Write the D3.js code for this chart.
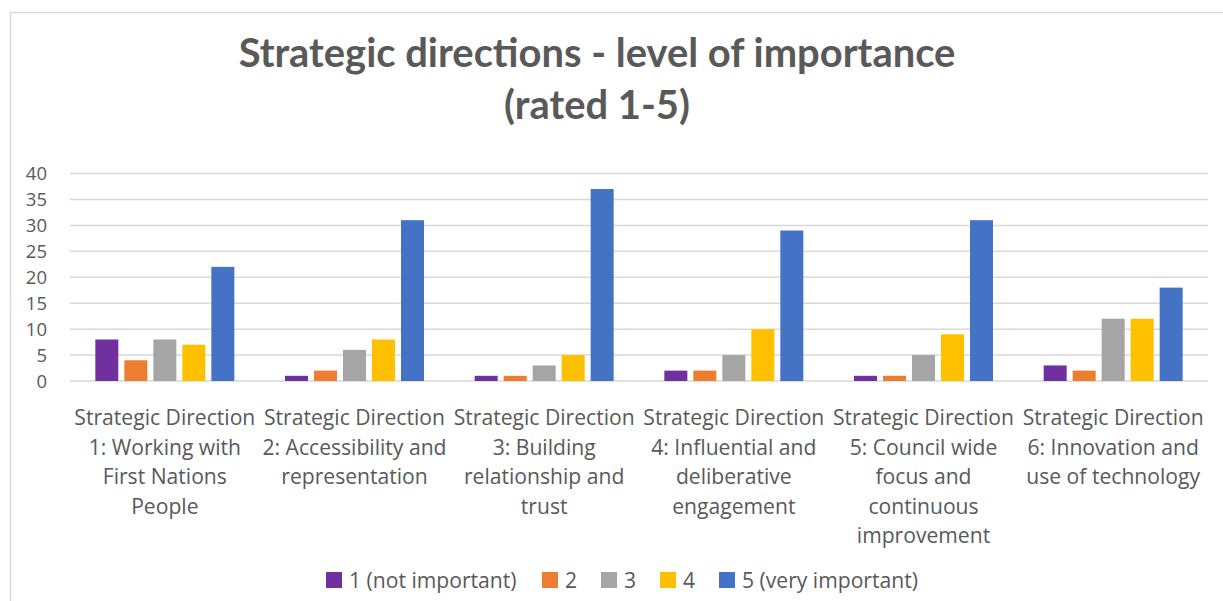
<!DOCTYPE html>
<html>
<head>
<meta charset="utf-8">
<script src="https://cdn.jsdelivr.net/npm/d3@7"></script>
<style>
	body { margin: 0; background: #fff; }
	svg text { fill: #595959; }
</style>
</head>
<body>
<div id="chart"></div>
<script>
var categories = ["SD1", "SD2", "SD3", "SD4", "SD5", "SD6"];
var categoryLabels = [
	["Strategic Direction", "1: Working with", "First Nations", "People"],
	["Strategic Direction", "2: Accessibility and", "representation"],
	["Strategic Direction", "3: Building", "relationship and", "trust"],
	["Strategic Direction", "4: Influential and", "deliberative", "engagement"],
	["Strategic Direction", "5: Council wide", "focus and", "continuous", "improvement"],
	["Strategic Direction", "6: Innovation and", "use of technology"]
];
var seriesNames = ["1 (not important)", "2", "3", "4", "5 (very important)"];
var seriesColors = ["#7030a0", "#ed7d31", "#a5a5a5", "#ffc000", "#4472c4"];
var notImportant = [8, 1, 1, 2, 1, 3];
var rated2 = [4, 2, 1, 2, 1, 2];
var rated3 = [8, 6, 3, 5, 5, 12];
var rated4 = [7, 8, 5, 10, 9, 12];
var veryImportant = [22, 31, 37, 29, 31, 18];
var yTicks = [0, 5, 10, 15, 20, 25, 30, 35, 40];
var titleLines = ["Strategic directions - level of importance", "(rated 1-5)"];

(function() {
	'use strict';

	var width = 1223, height = 601,
		plot = { left: 70, right: 1208, top: 173.5, bottom: 381 },
		seriesValues = [notImportant, rated2, rated3, rated4, veryImportant],
		bodyFont = "'Open Sans', sans-serif",
		titleFont = "Lato, sans-serif";

	var svg = d3.select("#chart").append("svg")
		.attr("width", width)
		.attr("height", height);

	// size a font so that a sample string has the wanted width
	function fitSize(sample, family, weight, wanted) {
		var t = svg.append("text")
			.attr("font-family", family)
			.attr("font-weight", weight)
			.attr("font-size", 20)
			.text(sample);
		var w = t.node().getComputedTextLength();
		t.remove();
		return 20 * wanted / w;
	}

	var labelSize = fitSize("Strategic Direction", bodyFont, "normal", 181),
		titleSize = fitSize(titleLines[0], titleFont, "bold", 717);

	// outer chart border
	svg.append("rect")
		.attr("x", 10.5).attr("y", 12.5)
		.attr("width", 1400).attr("height", 700)
		.attr("fill", "none")
		.attr("stroke", "#d9d9d9")
		.attr("stroke-width", 1.5);

	var x0 = d3.scaleBand()
		.domain(categories)
		.range([plot.left, plot.right]);

	var x1 = d3.scaleBand()
		.domain(d3.range(seriesNames.length))
		.range([0, x0.bandwidth()])
		.paddingInner(0.207)
		.paddingOuter(0.874);

	var y = d3.scaleLinear()
		.domain([0, 40])
		.range([plot.bottom, plot.top]);

	// gridlines
	svg.append("g")
		.selectAll("line")
		.data(yTicks)
		.enter().append("line")
		.attr("x1", plot.left).attr("x2", plot.right)
		.attr("y1", function(d) { return y(d); })
		.attr("y2", function(d) { return y(d); })
		.attr("stroke", "#d9d9d9")
		.attr("stroke-width", 1.5);

	// y axis
	var yAxis = d3.axisLeft(y).tickValues(yTicks).tickSize(0).tickPadding(0);
	svg.append("g")
		.attr("transform", "translate(47,0)")
		.call(yAxis)
		.call(function(g) { g.select(".domain").remove(); })
		.selectAll("text")
		.attr("font-family", bodyFont)
		.attr("font-size", 18.5)
		.attr("fill", "#595959")
		.attr("dy", "0.35em");

	// bars
	var groups = svg.append("g")
		.selectAll("g")
		.data(categories)
		.enter().append("g")
		.attr("transform", function(d) { return "translate(" + x0(d) + ",0)"; });

	groups.selectAll("rect")
		.data(function(d, i) {
			return seriesValues.map(function(vals, s) { return { s: s, v: vals[i] }; });
		})
		.enter().append("rect")
		.attr("x", function(d) { return x1(d.s); })
		.attr("width", x1.bandwidth())
		.attr("y", function(d) { return y(d.v); })
		.attr("height", function(d) { return y(0) - y(d.v); })
		.attr("fill", function(d) { return seriesColors[d.s]; });

	// category labels
	var labels = svg.append("g")
		.selectAll("text")
		.data(categories)
		.enter().append("text")
		.attr("font-family", bodyFont)
		.attr("font-size", labelSize)
		.attr("text-anchor", "middle")
		.attr("x", function(d) { return x0(d) + x0.bandwidth() / 2; })
		.attr("y", 425);

	labels.each(function(d, i) {
		var t = d3.select(this);
		categoryLabels[i].forEach(function(line, k) {
			t.append("tspan")
				.attr("x", x0(d) + x0.bandwidth() / 2)
				.attr("dy", k === 0 ? 0 : 29.5)
				.text(line);
		});
	});

	// title
	svg.append("g")
		.selectAll("text")
		.data(titleLines)
		.enter().append("text")
		.attr("x", 597)
		.attr("y", function(d, i) { return 67 + i * 52; })
		.attr("text-anchor", "middle")
		.attr("font-family", titleFont)
		.attr("font-size", titleSize)
		.attr("font-weight", "bold")
		.text(function(d) { return d; });

	// legend
	var legendX = [326, 542, 601, 660, 719];
	var legend = svg.append("g")
		.selectAll("g")
		.data(seriesNames)
		.enter().append("g")
		.attr("transform", function(d, i) { return "translate(" + legendX[i] + ",572)"; });

	legend.append("rect")
		.attr("width", 16).attr("height", 16)
		.attr("fill", function(d, i) { return seriesColors[i]; });

	legend.append("text")
		.attr("x", 23).attr("y", 16)
		.attr("font-family", bodyFont)
		.attr("font-size", labelSize)
		.text(function(d) { return d; });
})();
</script>
</body>
</html>
